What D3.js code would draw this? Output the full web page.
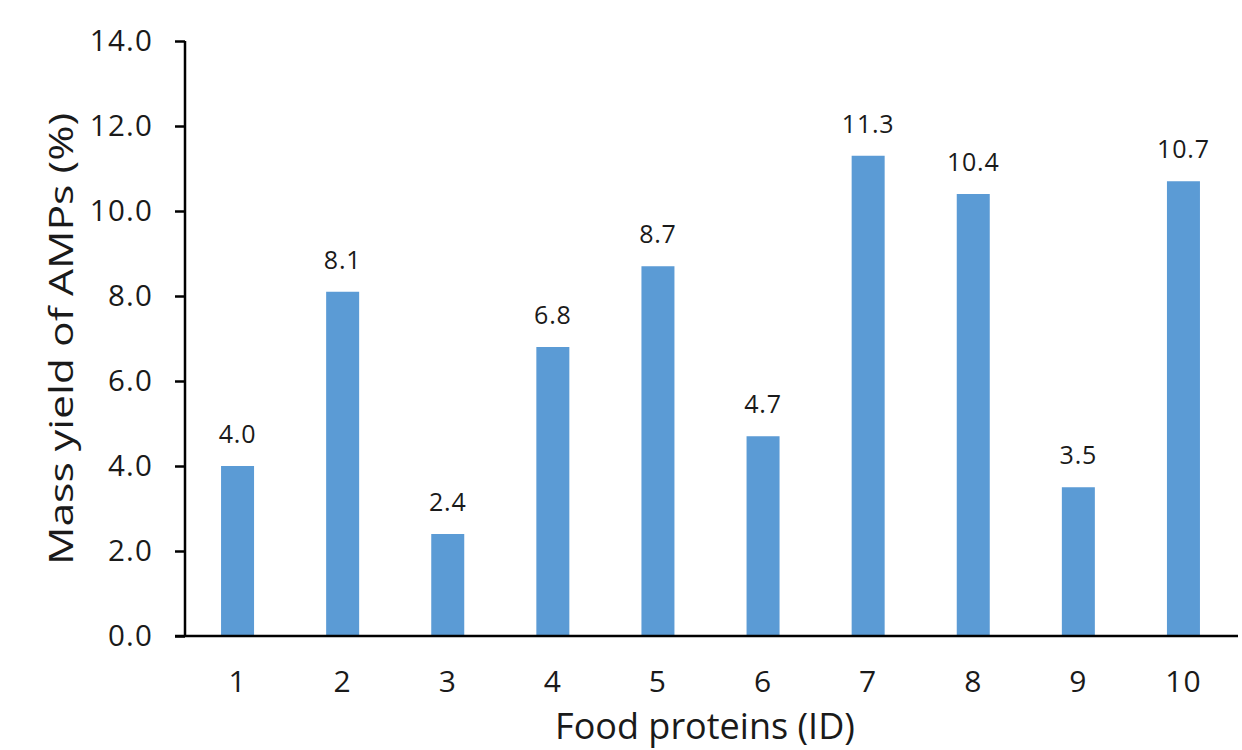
<!DOCTYPE html>
<html>
<head>
<meta charset="utf-8">
<script src="https://cdn.jsdelivr.net/npm/d3@7/dist/d3.min.js"></script>
<style>
  html, body { margin: 0; padding: 0; background: #fff; }
  svg { display: block; font-family: "Open Sans", sans-serif; }
</style>
</head>
<body>
<svg id="chart" width="1242" height="750"></svg>
<script>
// Mass yield of antimicrobial peptides per food protein
const proteinIds = ["1", "2", "3", "4", "5", "6", "7", "8", "9", "10"];
const massYield = [4.0, 8.1, 2.4, 6.8, 8.7, 4.7, 11.3, 10.4, 3.5, 10.7];
const yTicks = [0, 2, 4, 6, 8, 10, 12, 14];

const svg = d3.select("#chart");
const plotLeft = 185, plotRight = 1236, plotTop = 41, plotBottom = 636;
const textColor = "#1a1a1a";

const x = d3.scaleBand()
  .domain(proteinIds)
  .range([plotLeft, plotRight])
  .paddingInner(0.686)
  .paddingOuter(0.343);

const y = d3.scaleLinear().domain([0, 14]).range([plotBottom, plotTop]);

const rows = proteinIds.map((id, i) => ({ id, v: massYield[i] }));

// bars
svg.append("g").selectAll("rect")
  .data(rows)
  .join("rect")
  .attr("x", d => x(d.id))
  .attr("y", d => y(d.v))
  .attr("width", x.bandwidth())
  .attr("height", d => y(0) - y(d.v))
  .attr("fill", "#5b9bd5");

// value labels above each bar
svg.append("g").selectAll("text")
  .data(rows)
  .join("text")
  .attr("x", d => x(d.id) + x.bandwidth() / 2)
  .attr("y", d => y(d.v) - 23)
  .attr("text-anchor", "middle")
  .attr("font-size", 25)
  .attr("letter-spacing", 0.8)
  .attr("fill", textColor)
  .text(d => d.v.toFixed(1));

// y axis
const yAxis = svg.append("g")
  .attr("transform", `translate(${plotLeft},0)`)
  .call(d3.axisLeft(y).tickValues(yTicks).tickFormat(d3.format(".1f")).tickSize(10).tickPadding(22));
yAxis.select(".domain").attr("stroke", "#000").attr("stroke-width", 2.5).attr("d", `M0,${plotTop}V${plotBottom}`);
yAxis.selectAll(".tick line").attr("stroke", "#000").attr("stroke-width", 2.5);
yAxis.selectAll(".tick text")
  .attr("font-size", 29.5)
  .attr("letter-spacing", 1.2)
  .attr("fill", textColor)
  .attr("font-family", "'Open Sans', sans-serif");

// x axis
const xAxis = svg.append("g")
  .attr("transform", `translate(0,${plotBottom})`)
  .call(d3.axisBottom(x).tickSize(0).tickPadding(35));
xAxis.select(".domain").attr("stroke", "#000").attr("stroke-width", 2.5).attr("d", `M${plotLeft - 10},0H${plotRight + 2}`);
xAxis.selectAll(".tick text")
  .attr("font-size", 30)
  .attr("letter-spacing", 1)
  .attr("fill", textColor)
  .attr("font-family", "'Open Sans', sans-serif");

// axis titles
svg.append("text")
  .attr("transform", `translate(73,339) rotate(-90)`)
  .attr("text-anchor", "middle")
  .attr("font-size", 32)
  .attr("textLength", 452)
  .attr("lengthAdjust", "spacingAndGlyphs")
  .attr("fill", textColor)
  .text("Mass yield of AMPs (%)");

svg.append("text")
  .attr("x", 705)
  .attr("y", 739)
  .attr("text-anchor", "middle")
  .attr("font-size", 36)
  .attr("fill", textColor)
  .text("Food proteins (ID)");
</script>
</body>
</html>
